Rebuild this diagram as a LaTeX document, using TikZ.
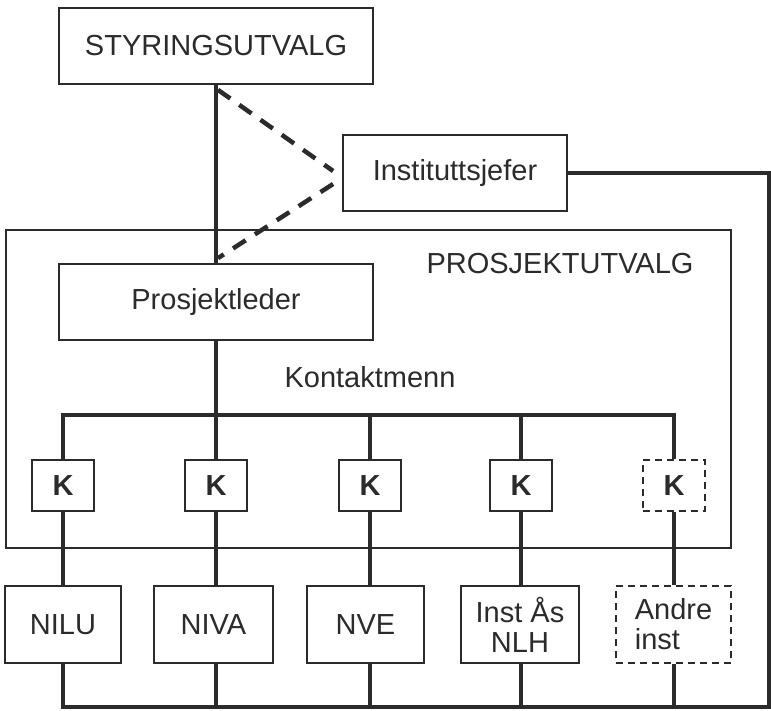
\documentclass[tikz,border=0pt]{standalone}
\usepackage{fontspec}
\setmainfont{Liberation Sans}
\definecolor{ink}{HTML}{2B2B2B}
\begin{document}
\begin{tikzpicture}[x=1pt,y=-1pt,
  txt/.style={font=\fontsize{29}{30}\selectfont, text=ink},
  box/.style={draw=ink, line width=1.8pt, fill=white, inner sep=0pt, txt},
  dbox/.style={box, dash pattern=on 7pt off 5pt},
  kbox/.style={box, minimum width=62pt, minimum height=51pt, font=\fontsize{29}{30}\selectfont\bfseries},
  ibox/.style={box, minimum width=117pt, minimum height=77pt},
  frame/.style={draw=ink, line width=1.5pt, inner sep=0pt},
  conn/.style={draw=ink, line width=4.5pt},
  dconn/.style={conn, dash pattern=on 15pt off 11pt}]
\useasboundingbox (0,0) rectangle (771,711);
% project committee frame
\node[frame, minimum width=725pt, minimum height=318pt] (pu) at (368.5,389) {};
\node[txt, anchor=base east] (putxt) at (697,274) {PROSJEKTUTVALG};
% main boxes
\node[box, minimum width=314pt, minimum height=76pt] (styr) at (216,46) {STYRINGSUTVALG};
\node[box, minimum width=224pt, minimum height=76pt] (inst) at (455,173) {Instituttsjefer};
\node[box, minimum width=314pt, minimum height=76pt] (pl) at (216,302) {Prosjektleder};
\node[txt, anchor=base] (km) at (370,387) {Kontaktmenn};
% K boxes
\node[kbox] (k1) at (63,485.5) {K};
\node[kbox] (k2) at (216,485.5) {K};
\node[kbox] (k3) at (370,485.5) {K};
\node[kbox] (k4) at (521,485.5) {K};
\node[kbox, dash pattern=on 7pt off 5pt] (k5) at (674,485.5) {K};
% institutes
\node[ibox, minimum width=116pt] (b1) at (63,624.5) {NILU};
\node[ibox, minimum width=119pt] (b2) at (213.5,624.5) {NIVA};
\node[ibox] (b3) at (365.5,624.5) {NVE};
\node[ibox, minimum width=118pt, align=center] (b4) at (520,624.5) {Inst Ås\\NLH};
\node[ibox, dbox, minimum width=115pt, align=left] (b5) at (673.5,624.5) {Andre\\inst};
% coordinates
\coordinate (bus) at (0,415);
\coordinate (ne) at (769,173);
\coordinate (se) at (769,707);
% connectors
\draw[conn] (styr.south) -- (pl.north);
\draw[conn] (pl.south) -- (k2.north);
\draw[conn] (k1.north) -- (k1.north |- bus) -- (k5.north |- bus) -- (k5.north);
\draw[conn] (k3.north |- bus) -- (k3.north);
\draw[conn] (k4.north |- bus) -- (k4.north);
\draw[conn] (inst.east) -- (ne) -- (se) -- (se -| k1.south) -- (k1.south |- b1.south);
\foreach \i in {1,...,5}{
  \draw[conn] (k\i.south) -- (k\i.south |- b\i.north);
}
\foreach \i in {2,...,5}{
  \draw[conn] (k\i.south |- b\i.south) -- (k\i.south |- se);
}
\draw[dconn] ([xshift=2pt,yshift=-5pt]styr.south) -- ([xshift=-9pt,yshift=2pt]inst.west);
\draw[dconn] ([xshift=-9pt,yshift=-11pt]inst.west) -- ([xshift=2pt,yshift=5pt]pl.north);
\end{tikzpicture}
\end{document}
